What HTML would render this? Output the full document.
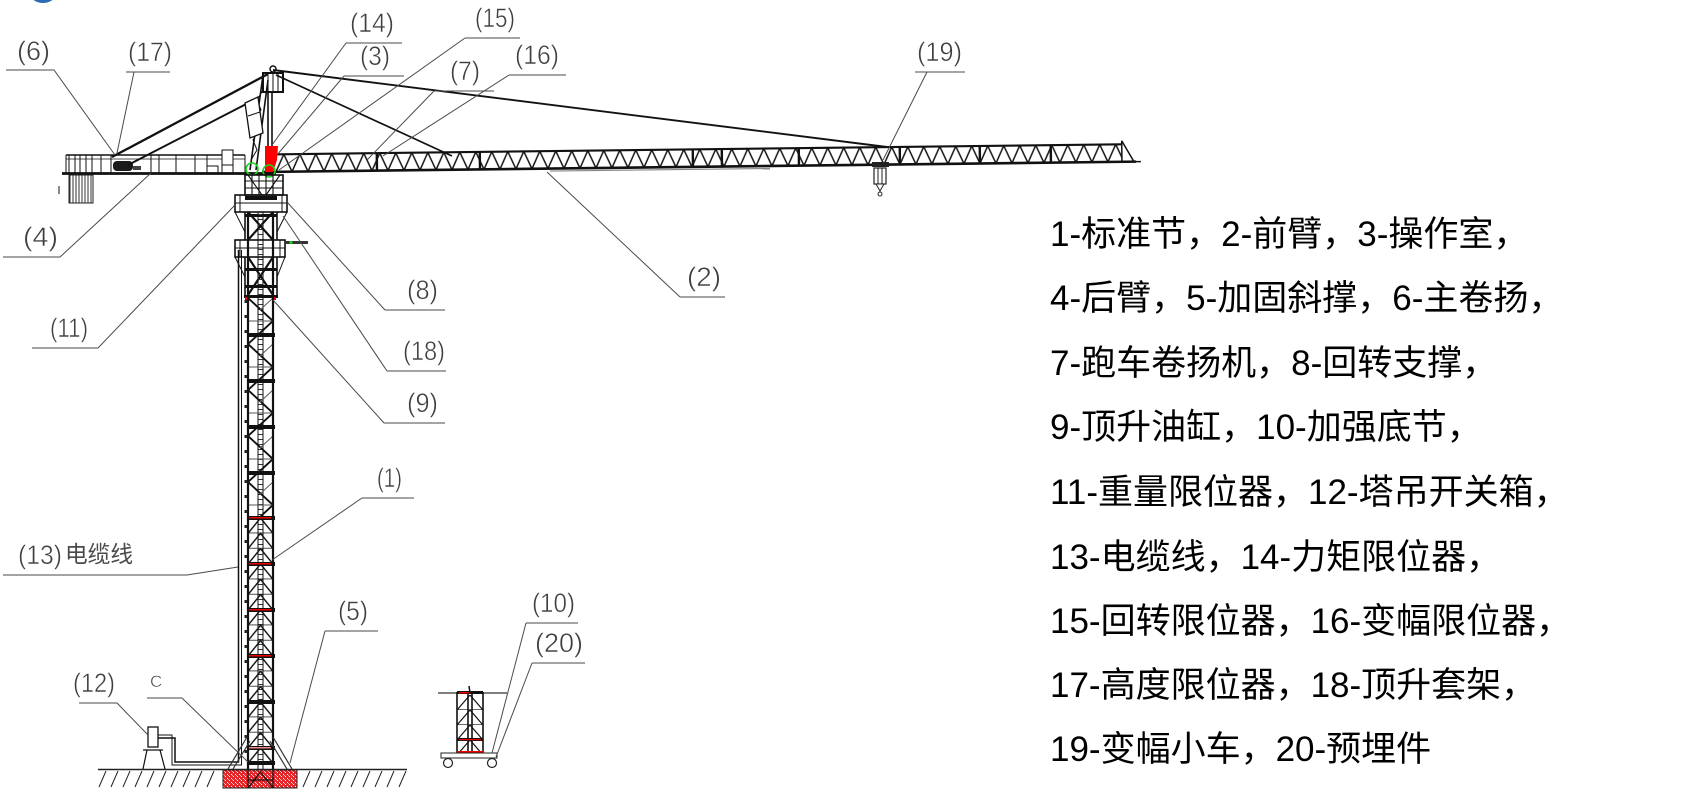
<!DOCTYPE html>
<html><head><meta charset="utf-8">
<style>
html,body{margin:0;padding:0;background:#fff;}
svg{display:block;}
.lbl{font-family:"Liberation Sans Narrow","Liberation Sans",sans-serif;font-size:27px;fill:#3f3f3f;stroke:#fff;stroke-width:0.5;}
.cjk{font-family:"Liberation Sans","Noto Sans CJK SC",sans-serif;font-size:23px;fill:#4a4a4a;}
.ld{stroke:#4a4a4a;stroke-width:1;fill:none;}
.txt{font-family:"Liberation Sans","Noto Sans CJK SC",sans-serif;font-size:35px;fill:#000;}
</style></head><body>
<svg width="1692" height="805" viewBox="0 0 1692 805" xmlns="http://www.w3.org/2000/svg">
<defs>
<pattern id="jibp" patternUnits="userSpaceOnUse" x="276" y="154.5" width="16" height="17.5">
<path d="M0,17.5 L8,0 L16,17.5" fill="none" stroke="#111" stroke-width="1.5"/>
</pattern>
<pattern id="mastU" patternUnits="userSpaceOnUse" x="248" y="298" width="25" height="46">
<path d="M0,0 L25,23 L0,46" fill="none" stroke="#111" stroke-width="1.9"/>
<path d="M25,0 L12,12 M0,23 H25" fill="none" stroke="#555" stroke-width="1"/>
</pattern>
<pattern id="mastL" patternUnits="userSpaceOnUse" x="248" y="518" width="25" height="15.33">
<path d="M0,15.33 L12.5,0 L25,15.33 M0,15.33 H25" fill="none" stroke="#111" stroke-width="1.4"/>
</pattern>
<pattern id="smallT" patternUnits="userSpaceOnUse" x="457" y="695" width="26" height="15">
<path d="M0,15 L13,0 L26,15 M0,15 H26" fill="none" stroke="#111" stroke-width="1.2"/>
</pattern>
<pattern id="ladder" patternUnits="userSpaceOnUse" x="258" y="212" width="5" height="5">
<path d="M0,2.5 H5" stroke="#333" stroke-width="1"/>
</pattern>
<pattern id="red" patternUnits="userSpaceOnUse" width="4" height="4">
<rect width="4" height="4" fill="#e8262a"/>
<rect x="1" y="0" width="1" height="1" fill="#fff"/>
<rect x="3" y="2" width="1" height="1" fill="#fff"/>
<rect x="0" y="3" width="1" height="1" fill="#f4a0a0"/>
</pattern>
<pattern id="cw" patternUnits="userSpaceOnUse" x="69" y="175" width="3" height="30">
<path d="M1,0 V30" stroke="#333" stroke-width="1"/>
</pattern>
</defs>

<!-- blue arc top-left -->
<ellipse cx="43" cy="-5" rx="12" ry="8" fill="#2a6db5"/>

<!-- counter-jib -->
<g stroke="#111" fill="none">
<line x1="66" y1="155" x2="245" y2="155" stroke-width="1.6"/>
<line x1="66" y1="159" x2="245" y2="159" stroke-width="0.8"/>
<line x1="62" y1="173.5" x2="276" y2="173.5" stroke-width="2.8"/>
<path d="M66,155V173 M69,155V173 M75,155V173 M80,155V173 M86,155V173 M92,155V173 M101,155V173 M111,155V173 M151,155V173 M159,155V173 M176,155V173 M195,155V173 M207,155V173 M222,155V173 M233,155V173 M245,155V173" stroke-width="1"/>
<rect x="222" y="150" width="11" height="15" stroke-width="1" fill="#fff"/>
<rect x="207" y="166" width="11" height="7" stroke-width="1"/>
<line x1="59" y1="186" x2="59" y2="194" stroke-width="1"/>
</g>
<rect x="69" y="175" width="24" height="28" fill="url(#cw)" stroke="#222" stroke-width="1"/>
<rect x="113" y="161" width="20" height="10" rx="4" fill="#1a1a1a"/>
<rect x="133" y="166" width="8" height="4" fill="#444"/>

<!-- tie rods -->
<g stroke="#111" fill="none">
<line x1="273" y1="70" x2="887" y2="147" stroke-width="1.9"/>
<line x1="276" y1="75" x2="452" y2="156" stroke-width="1.7"/>
<line x1="268" y1="74" x2="112" y2="157" stroke-width="2.3"/>
<line x1="254" y1="100" x2="128" y2="165" stroke-width="1.9"/>
</g>

<!-- jib -->
<g transform="rotate(-0.68 262 172)">
<rect x="276" y="154.5" width="846" height="17.5" fill="url(#jibp)"/>
<line x1="270" y1="154.5" x2="1122" y2="154.5" stroke="#111" stroke-width="2.1"/>
<line x1="262" y1="172" x2="1136" y2="172" stroke="#111" stroke-width="2.6"/>
<path d="M1122,151 V172 M1122,151 L1134,172 M1134,172 L1141,172" stroke="#111" stroke-width="1.5" fill="none"/>
<path d="M377,154.5V172 M480,154.5V172 M693,154.5V172 M722,154.5V172 M799,154.5V172 M900,154.5V172 M980,154.5V172 M1051,154.5V172" stroke="#111" stroke-width="2.4"/>
<line x1="550" y1="174.5" x2="770" y2="174.5" stroke="#888" stroke-width="1.2"/>
</g>

<!-- trolley -->
<rect x="872" y="162" width="17" height="5" fill="#222"/>
<rect x="874" y="168" width="12" height="16" fill="#fff" stroke="#222" stroke-width="1.2"/>
<path d="M878,168V184 M882,168V184" stroke="#222" stroke-width="1"/>
<path d="M876,184 L884,184 L880,191 Z" fill="#fff" stroke="#222" stroke-width="1"/>
<circle cx="880" cy="194" r="2" fill="none" stroke="#222"/>

<!-- tower head -->
<rect x="263" y="73" width="20" height="19" fill="none" stroke="#111" stroke-width="2"/>
<path d="M268,73V92 M273,73V92 M278,73V92" stroke="#111" stroke-width="1"/>
<circle cx="273" cy="69" r="3" fill="none" stroke="#111" stroke-width="1.5"/>
<path d="M268,92 V150 M272,92 V150" stroke="#111" stroke-width="1.6"/>
<path d="M250,170 L263,75 M256,170 L268,80" stroke="#111" stroke-width="1.6"/>
<path d="M251,160 L257,150 L253,140 L259,130 L255,120 L261,110 L257,100 L263,90" stroke="#111" stroke-width="1" fill="none"/>
<polygon points="245,103 258,97 263,133 250,138" fill="#fff" stroke="#111" stroke-width="1.3"/>
<line x1="248" y1="116" x2="260" y2="112" stroke="#111"/>
<polygon points="265,146 278,146 277,160 273,172 265,172" fill="#ff0000"/>
<circle cx="252" cy="169" r="6" fill="none" stroke="#1bd11b" stroke-width="1.6"/>
<circle cx="269" cy="171" r="6" fill="none" stroke="#1bd11b" stroke-width="1.6"/>

<!-- slewing part -->
<rect x="245" y="175" width="38" height="20" fill="none" stroke="#111" stroke-width="1.6"/>
<path d="M245,181H283 M245,188H283 M252,175V195 M259,175V195 M266,175V195 M273,175V195 M248,175L262,195 M280,175L266,195" stroke="#111" stroke-width="1.1"/>

<!-- climbing frame -->
<g stroke="#111" fill="none">
<rect x="235" y="195" width="52" height="17" stroke-width="1.6"/>
<path d="M240,195V212 M282,195V212 M235,203H287" stroke-width="1"/>
<path d="M245,212V298 M277,212V298" stroke-width="1.6"/>
<path d="M235,212L245,232 M287,212L277,232 M235,257L245,277 M285,257L277,277" stroke-width="1"/>
<rect x="235" y="240" width="50" height="17" stroke-width="1.6" fill="#fff"/>
<path d="M240,240V257 M280,240V257 M235,248H285" stroke-width="1"/>
<path d="M248,212L273,240 M273,212L248,240 M248,257L273,295 M273,257L248,295" stroke-width="2.2"/>
</g>
<rect x="245" y="196" width="32" height="4" fill="#111"/>
<rect x="245" y="214" width="32" height="3" fill="#111"/>
<rect x="245" y="268" width="32" height="3" fill="#111"/>
<rect x="245" y="285" width="32" height="3" fill="#111"/>
<rect x="244" y="295" width="34" height="3" fill="#111"/>
<rect x="285" y="241" width="23" height="3" fill="#333"/>
<circle cx="291" cy="242.5" r="1.6" fill="#1bd11b"/>
<rect x="245" y="297" width="4" height="3" fill="#e00"/>
<rect x="272" y="297" width="4" height="3" fill="#e00"/>

<!-- mast -->
<rect x="258" y="212" width="5" height="576" fill="url(#ladder)"/>
<path d="M258,212V788 M263,212V788" stroke="#111" stroke-width="1"/>
<rect x="248" y="298" width="25" height="220" fill="url(#mastU)"/>
<rect x="248" y="518" width="25" height="245" fill="url(#mastL)"/>
<path d="M248,212V788 M273,212V788" stroke="#111" stroke-width="2.2"/>
<line x1="246" y1="300" x2="246" y2="760" stroke="#222" stroke-width="3" stroke-dasharray="3 12"/>
<g fill="#111">
<rect x="247" y="333" width="28" height="4"/>
<rect x="247" y="379" width="28" height="4"/>
<rect x="247" y="425" width="28" height="4"/>
<rect x="247" y="471" width="28" height="4"/>
<rect x="247" y="700" width="28" height="4"/>
<rect x="247" y="761" width="28" height="4"/>
<rect x="247" y="516" width="28" height="4"/>
<rect x="247" y="562" width="28" height="4"/>
<rect x="247" y="608" width="28" height="4"/>
<rect x="247" y="654" width="28" height="4"/>
<rect x="247" y="746" width="28" height="4"/>
</g>
<g fill="#e00">
<rect x="249" y="517" width="22" height="1.5"/>
<rect x="249" y="563" width="22" height="1.5"/>
<rect x="249" y="609" width="22" height="1.5"/>
<rect x="249" y="655" width="22" height="1.5"/>
<rect x="249" y="747" width="22" height="1.5" fill="#e88"/>
</g>

<!-- cable -->
<path d="M238.5,250 V762 H175 V738 H158" fill="none" stroke="#111" stroke-width="1.5"/>
<path d="M241.5,250 V765 H172 V735 H158" fill="none" stroke="#111" stroke-width="1"/>

<!-- braces -->
<path d="M247,737 L228,769 M250,741 L233,769 M273,737 L292,769 M270,741 L287,769" stroke="#333" stroke-width="1.2" fill="none"/>

<!-- foundation -->
<rect x="223" y="770" width="74" height="18" fill="url(#red)" stroke="#222" stroke-width="1"/>
<path d="M248,770V788 M273,770V788 M248,788 L260.5,772 L273,788 M248,780H273" stroke="#111" stroke-width="1.3" fill="none"/>

<!-- ground -->
<line x1="98" y1="769.5" x2="407" y2="769.5" stroke="#222" stroke-width="1.5"/>
<g stroke="#222" stroke-width="1">
<path d="M99,787 L106,771 M111,787 L118,771 M123,787 L130,771 M135,787 L142,771 M147,787 L154,771 M159,787 L166,771 M171,787 L178,771 M183,787 L190,771 M195,787 L202,771 M207,787 L214,771"/>
<path d="M303,787 L310,771 M315,787 L322,771 M327,787 L334,771 M339,787 L346,771 M351,787 L358,771 M363,787 L370,771 M375,787 L382,771 M387,787 L394,771 M399,787 L406,771"/>
</g>

<!-- switch box -->
<rect x="148" y="727" width="10" height="20" fill="#fff" stroke="#111" stroke-width="1.3"/>
<path d="M143,750 H163 M147,750 L143,769 M160,750 L165,769" stroke="#111" stroke-width="1.2" fill="none"/>

<!-- small tower (10)/(20) -->
<line x1="438" y1="693" x2="507" y2="693" stroke="#333" stroke-width="1.3"/>
<rect x="457" y="695" width="26" height="58" fill="url(#smallT)"/>
<path d="M457,692V755 M483,692V755 M468,693V753 M472,693V753" stroke="#111" stroke-width="1.6"/>
<path d="M469,686 L470,693" stroke="#111" stroke-width="1.5"/>
<rect x="457" y="691" width="26" height="3" fill="#111"/>
<rect x="459" y="692" width="10" height="1.5" fill="#e00"/>
<rect x="457" y="738" width="26" height="3" fill="#111"/>
<rect x="459" y="739" width="22" height="1.2" fill="#e00"/>
<rect x="457" y="751" width="26" height="2" fill="#e00"/>
<rect x="441" y="753" width="56" height="5" fill="#fff" stroke="#222" stroke-width="1"/>
<circle cx="448" cy="763" r="4.5" fill="#fff" stroke="#222" stroke-width="1.2"/>
<circle cx="492" cy="763" r="4.5" fill="#fff" stroke="#222" stroke-width="1.2"/>

<!-- leader lines -->
<g class="ld">
<path d="M6,70 H54 L115,155"/>
<path d="M126,72 H170 M134,72 L117,153"/>
<path d="M346,43 H402 M346,43 L272,145"/>
<path d="M344,76 H404 M344,76 L277,155"/>
<path d="M465,38 H520 M465,38 L279,170"/>
<path d="M434,91 H494 M434,91 L367,160"/>
<path d="M509,75 H566 M509,75 L383,156"/>
<path d="M915,72 H965 M927,72 L883,160"/>
<path d="M680,297 H725 M680,297 L547,172"/>
<path d="M3,257 H60 L151,173"/>
<path d="M32,348 H98 L235,205"/>
<path d="M385,310 H445 M385,310 L287,202"/>
<path d="M387,371 H446 M387,371 L283,216"/>
<path d="M384,423 H445 M384,423 L273,300"/>
<path d="M362,498 H414 M362,498 L272,560"/>
<path d="M3,575 H187 L238,567"/>
<path d="M325,631 H378 M325,631 L290,763"/>
<path d="M79,703 H117 L148,735"/>
<path d="M147,698 H182 L248,762"/>
<path d="M526,623 H578 M526,623 L492,753"/>
<path d="M532,663 H585 M532,663 L496,757"/>
</g>

<!-- labels -->
<text class="lbl" x="17" y="60" textLength="33" lengthAdjust="spacingAndGlyphs">(6)</text>
<text class="lbl" x="128" y="61" textLength="44" lengthAdjust="spacingAndGlyphs">(17)</text>
<text class="lbl" x="350" y="32" textLength="44" lengthAdjust="spacingAndGlyphs">(14)</text>
<text class="lbl" x="360" y="65" textLength="30" lengthAdjust="spacingAndGlyphs">(3)</text>
<text class="lbl" x="475" y="27" textLength="40" lengthAdjust="spacingAndGlyphs">(15)</text>
<text class="lbl" x="450" y="80" textLength="30" lengthAdjust="spacingAndGlyphs">(7)</text>
<text class="lbl" x="515" y="64" textLength="44" lengthAdjust="spacingAndGlyphs">(16)</text>
<text class="lbl" x="917" y="61" textLength="45" lengthAdjust="spacingAndGlyphs">(19)</text>
<text class="lbl" x="687" y="286" textLength="34" lengthAdjust="spacingAndGlyphs">(2)</text>
<text class="lbl" x="23" y="246" textLength="35" lengthAdjust="spacingAndGlyphs">(4)</text>
<text class="lbl" x="50" y="337" textLength="38" lengthAdjust="spacingAndGlyphs">(11)</text>
<text class="lbl" x="407" y="299" textLength="31" lengthAdjust="spacingAndGlyphs">(8)</text>
<text class="lbl" x="403" y="360" textLength="42" lengthAdjust="spacingAndGlyphs">(18)</text>
<text class="lbl" x="407" y="412" textLength="31" lengthAdjust="spacingAndGlyphs">(9)</text>
<text class="lbl" x="377" y="487" textLength="25" lengthAdjust="spacingAndGlyphs">(1)</text>
<text class="lbl" x="18" y="564" textLength="44" lengthAdjust="spacingAndGlyphs">(13)</text>
<text class="cjk" x="65" y="562" textLength="68" lengthAdjust="spacingAndGlyphs">电缆线</text>
<text class="lbl" x="338" y="620" textLength="30" lengthAdjust="spacingAndGlyphs">(5)</text>
<text class="lbl" x="73" y="692" textLength="42" lengthAdjust="spacingAndGlyphs">(12)</text>
<text class="lbl" x="150" y="687" style="font-size:17px">C</text>
<text class="lbl" x="532" y="612" textLength="43" lengthAdjust="spacingAndGlyphs">(10)</text>
<text class="lbl" x="535" y="652" textLength="48" lengthAdjust="spacingAndGlyphs">(20)</text>

<!-- legend text -->
<text class="txt" x="1050" y="246">1-标准节，2-前臂，3-操作室，</text>
<text class="txt" x="1050" y="310">4-后臂，5-加固斜撑，6-主卷扬，</text>
<text class="txt" x="1050" y="375">7-跑车卷扬机，8-回转支撑，</text>
<text class="txt" x="1050" y="439">9-顶升油缸，10-加强底节，</text>
<text class="txt" x="1050" y="504">11-重量限位器，12-塔吊开关箱，</text>
<text class="txt" x="1050" y="569">13-电缆线，14-力矩限位器，</text>
<text class="txt" x="1050" y="633">15-回转限位器，16-变幅限位器，</text>
<text class="txt" x="1050" y="697">17-高度限位器，18-顶升套架，</text>
<text class="txt" x="1050" y="761">19-变幅小车，20-预埋件</text>
</svg>
</body></html>
